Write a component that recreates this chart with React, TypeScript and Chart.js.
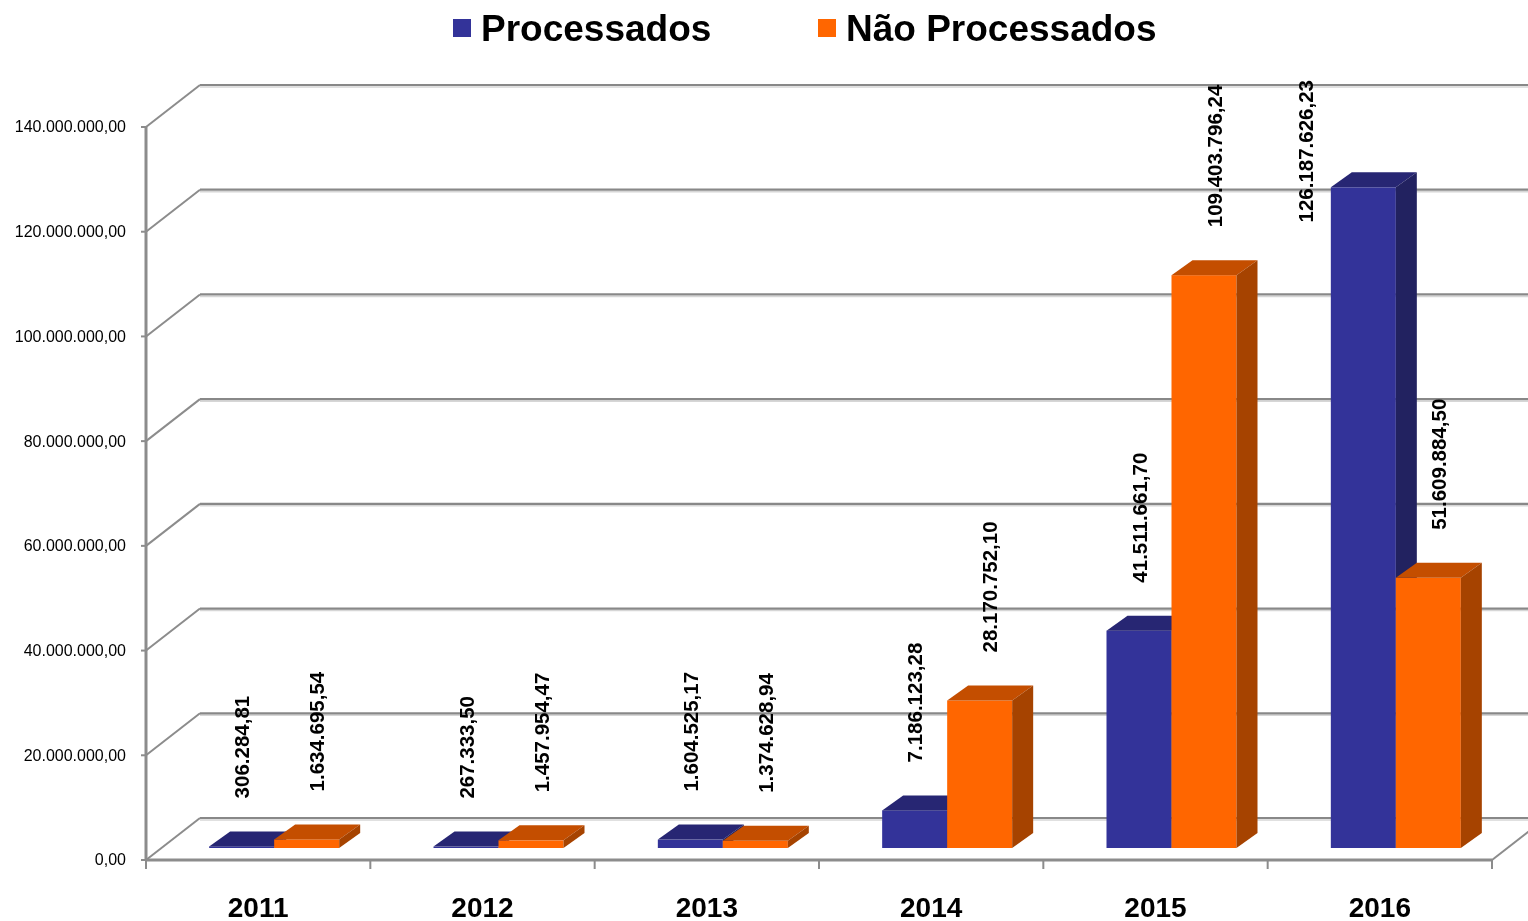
import React, { useEffect, useRef } from "react";
import { Chart, registerables } from "chart.js";

Chart.register(...registerables);

// ---------- data ----------
const categories = ["2011", "2012", "2013", "2014", "2015", "2016"];
const seriesNames = ["Processados", "Não Processados"];
const processados = [306284.81, 267333.5, 1604525.17, 7186123.28, 41511661.7, 126187626.23];
const naoProcessados = [1634695.54, 1457954.47, 1374628.94, 28170752.1, 109403796.24, 51609884.5];
const yTicks = [0, 20000000, 40000000, 60000000, 80000000, 100000000, 120000000, 140000000];

// ---------- style ----------
const W = 1528;
const H = 921;
const FRONT_COLORS = ["#333399", "#FF6600"];
const TOP_COLORS = ["#272673", "#C44E00"];
const SIDE_COLORS = ["#222260", "#A64300"];
const LABEL_DX = [2, 12];
const FONT = '"Liberation Sans", Arial, Helvetica, sans-serif';
const FRONT_DX = -16; // front (axis) plane relative to bar plane
const FRONT_DY = 12;
const BACK_DX = 38; // back wall relative to bar plane
const BACK_DY = -30;
const BAR_DX = 21; // bar depth
const BAR_DY = -15;
const GRID = "#888888";
const GRID_LIGHT = "#d6d6d6";

function fmtBR(v: number): string {
  const fixed = v.toFixed(2);
  const parts = fixed.split(".");
  const intPart = parts[0].replace(/\B(?=(\d{3})+(?!\d))/g, ".");
  return intPart + "," + parts[1];
}

const threeDPlugin = {
  id: "threeD",
  beforeDatasetsDraw(chart: any) {
    const ctx = chart.ctx as CanvasRenderingContext2D;
    const area = chart.chartArea;
    const y = chart.scales.y;
    const x = chart.scales.x;
    ctx.save();
    for (const t of yTicks) {
      const py = y.getPixelForValue(t);
      const by = py + BACK_DY;
      ctx.strokeStyle = GRID_LIGHT;
      ctx.lineWidth = 1.5;
      ctx.beginPath();
      ctx.moveTo(area.left + BACK_DX, by + 2);
      ctx.lineTo(area.right + BACK_DX + 40, by + 2);
      ctx.stroke();
      ctx.strokeStyle = GRID;
      ctx.lineWidth = 2.2;
      ctx.beginPath();
      ctx.moveTo(area.left + BACK_DX, by);
      ctx.lineTo(area.right + BACK_DX + 40, by);
      ctx.stroke();
      ctx.lineWidth = 2;
      ctx.strokeStyle = "#8c8c8c";
      ctx.beginPath();
      ctx.moveTo(area.left + FRONT_DX, py + FRONT_DY);
      ctx.lineTo(area.left + BACK_DX, by);
      ctx.stroke();
      ctx.lineWidth = 2;
      ctx.beginPath();
      ctx.moveTo(area.left + FRONT_DX - 5, py + FRONT_DY);
      ctx.lineTo(area.left + FRONT_DX, py + FRONT_DY);
      ctx.stroke();
      ctx.fillStyle = "#000";
      ctx.font = `16px ${FONT}`;
      ctx.textAlign = "right";
      ctx.textBaseline = "middle";
      ctx.fillText(fmtBR(t), area.left + FRONT_DX - 20, py + FRONT_DY + 1);
    }
    const y0 = y.getPixelForValue(0) + FRONT_DY;
    const yTop = y.getPixelForValue(yTicks[yTicks.length - 1]) + FRONT_DY;
    const fl = area.left + FRONT_DX;
    const fr = area.right + FRONT_DX;
    ctx.strokeStyle = "#8c8c8c";
    ctx.lineWidth = 3;
    ctx.beginPath();
    ctx.moveTo(fl, yTop);
    ctx.lineTo(fl, y0 + 1);
    ctx.stroke();
    ctx.beginPath();
    ctx.moveTo(fl, y0);
    ctx.lineTo(fr, y0);
    ctx.stroke();
    ctx.lineWidth = 2;
    ctx.beginPath();
    ctx.moveTo(fr, y0);
    ctx.lineTo(area.right + BACK_DX, y0 - FRONT_DY + BACK_DY);
    ctx.stroke();
    const n = categories.length;
    const cw = (area.right - area.left) / n;
    ctx.lineWidth = 2;
    for (let i = 0; i <= n; i++) {
      const px = fl + i * cw;
      ctx.beginPath();
      ctx.moveTo(px, y0);
      ctx.lineTo(px, y0 + 9);
      ctx.stroke();
    }
    ctx.fillStyle = "#000";
    ctx.font = `bold 28px ${FONT}`;
    ctx.textAlign = "center";
    ctx.textBaseline = "alphabetic";
    for (let i = 0; i < n; i++) {
      const px = x.getPixelForValue(i) + FRONT_DX;
      ctx.fillText(categories[i], px, 917);
    }
    ctx.restore();
  },
  beforeDatasetDraw() {
    return false;
  },
  afterDatasetsDraw(chart: any) {
    const ctx = chart.ctx as CanvasRenderingContext2D;
    ctx.save();
    const metas = [chart.getDatasetMeta(0), chart.getDatasetMeta(1)];
    const n = categories.length;
    for (let i = 0; i < n; i++) {
      for (let d = 0; d < metas.length; d++) {
        const el = metas[d].data[i] as any;
        const x0 = el.x - el.width / 2;
        const x1 = el.x + el.width / 2;
        const top = el.y;
        const bottom = el.base;
        ctx.fillStyle = FRONT_COLORS[d];
        ctx.fillRect(x0, top, x1 - x0, bottom - top);
        ctx.fillStyle = TOP_COLORS[d];
        ctx.beginPath();
        ctx.moveTo(x0, top);
        ctx.lineTo(x1, top);
        ctx.lineTo(x1 + BAR_DX, top + BAR_DY);
        ctx.lineTo(x0 + BAR_DX, top + BAR_DY);
        ctx.closePath();
        ctx.fill();
        ctx.fillStyle = SIDE_COLORS[d];
        ctx.beginPath();
        ctx.moveTo(x1, top);
        ctx.lineTo(x1 + BAR_DX, top + BAR_DY);
        ctx.lineTo(x1 + BAR_DX, bottom + BAR_DY);
        ctx.lineTo(x1, bottom);
        ctx.closePath();
        ctx.fill();
      }
    }
    ctx.fillStyle = "#000";
    ctx.font = `bold 20.5px ${FONT}`;
    ctx.textAlign = "left";
    ctx.textBaseline = "middle";
    const minTop = 80;
    for (let d = 0; d < metas.length; d++) {
      const values = d === 0 ? processados : naoProcessados;
      for (let i = 0; i < n; i++) {
        const el = metas[d].data[i] as any;
        const txt = fmtBR(values[i]);
        const tw = ctx.measureText(txt).width;
        let cx = el.x + LABEL_DX[d];
        let by = el.y - 48;
        if (by - tw < minTop) {
          by = minTop + tw;
          cx = el.x - el.width / 2 - 23;
        }
        ctx.save();
        ctx.translate(cx, by);
        ctx.rotate(-Math.PI / 2);
        ctx.fillText(txt, 0, 0);
        ctx.restore();
      }
    }
    ctx.restore();
  },
  afterDraw(chart: any) {
    const ctx = chart.ctx as CanvasRenderingContext2D;
    ctx.save();
    ctx.font = `bold 37px ${FONT}`;
    ctx.textAlign = "left";
    ctx.textBaseline = "alphabetic";
    const items = [
      { sx: 453, tx: 481 },
      { sx: 818, tx: 846 },
    ];
    for (let d = 0; d < 2; d++) {
      ctx.fillStyle = FRONT_COLORS[d];
      ctx.fillRect(items[d].sx, 19, 18, 18);
      ctx.fillStyle = "#000";
      ctx.fillText(seriesNames[d], items[d].tx, 41);
    }
    ctx.restore();
  },
};

export default function App() {
  const ref = useRef<HTMLCanvasElement | null>(null);
  useEffect(() => {
    document.body.style.margin = "0";
    const canvas = ref.current;
    if (!canvas) return;
    const chart = new Chart(canvas, {
      type: "bar",
      data: {
        labels: categories,
        datasets: [
          {
            label: seriesNames[0],
            data: processados,
            backgroundColor: FRONT_COLORS[0],
            barPercentage: 1,
            categoryPercentage: 130 / 224.33,
          },
          {
            label: seriesNames[1],
            data: naoProcessados,
            backgroundColor: FRONT_COLORS[1],
            barPercentage: 1,
            categoryPercentage: 130 / 224.33,
          },
        ],
      },
      options: {
        responsive: false,
        animation: false,
        devicePixelRatio: 1,
        layout: { padding: { left: 162, right: 20, top: 115, bottom: 73 } },
        plugins: { legend: { display: false }, tooltip: { enabled: false } },
        scales: {
          x: { display: false },
          y: { display: false, min: 0, max: 140000000 },
        },
      },
      plugins: [threeDPlugin],
    } as any);
    return () => chart.destroy();
  }, []);
  return (
    <div style={{ width: W, height: H, background: "#fff" }}>
      <canvas ref={ref} width={W} height={H} style={{ display: "block" }} />
    </div>
  );
}
